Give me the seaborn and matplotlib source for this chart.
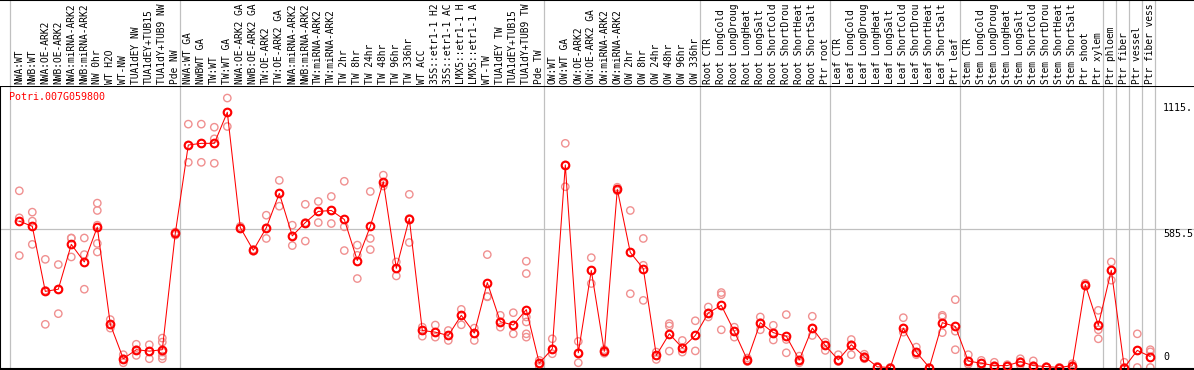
import numpy as np
import pandas as pd
import matplotlib
matplotlib.use("Agg")
import matplotlib.pyplot as plt
import matplotlib.transforms as mtransforms
import seaborn as sns

# ---------------------------------------------------------------
# datos
# ---------------------------------------------------------------
gene_id = "Potri.007G059800"

# etiquetas tal y como se ven (cortadas a 14 caracteres)
labels = [
    "NWA:WT", "NWB:WT", "NWA:OE-ARK2", "NWB:OE-ARK2", "NWA:miRNA-ARK2",
    "NWB:miRNA-ARK2", "NW 0hr", "WT H2O", "WT-NW", "TUA1dEY NW",
    "TUA1dEY+TUB15", "TUA1dY+TUB9 NW", "Pde NW",
    "NWA:WT GA", "NWBWT GA", "TW:WT", "TW:WT GA", "NWA:OE-ARK2 GA",
    "NWB:OE-ARK2 GA", "TW:OE-ARK2", "TW:OE-ARK2 GA", "NWA:miRNA-ARK2",
    "NWB:miRNA-ARK2", "TW:miRNA-ARK2", "TW:miRNA-ARK2", "TW 2hr", "TW 8hr",
    "TW 24hr", "TW 48hr", "TW 96hr", "TW 336hr", "WT ACC",
    "35S::etr1-1 H2", "35S::etr1-1 AC", "LMX5::etr1-1 H",
    "LMX5::etr1-1 A", "WT-TW", "TUA1dEY TW", "TUA1dEY+TUB15",
    "TUA1dY+TUB9 TW", "Pde TW",
    "OW:WT", "OW:WT GA", "OW:OE-ARK2", "OW:OE-ARK2 GA", "OW:miRNA-ARK2",
    "OW:miRNA-ARK2", "OW 2hr", "OW 8hr", "OW 24hr", "OW 48hr", "OW 96hr",
    "OW 336hr",
    "Root CTR", "Root LongCold", "Root LongDroug", "Root LongHeat",
    "Root LongSalt", "Root ShortCold", "Root ShortDrou", "Root ShortHeat",
    "Root ShortSalt", "Ptr root",
    "Leaf CTR", "Leaf LongCold", "Leaf LongDroug", "Leaf LongHeat",
    "Leaf LongSalt", "Leaf ShortCold", "Leaf ShortDrou", "Leaf ShortHeat",
    "Leaf ShortSalt", "Ptr leaf",
    "Stem CTR", "Stem LongCold", "Stem LongDroug", "Stem LongHeat",
    "Stem LongSalt", "Stem ShortCold", "Stem ShortDrou", "Stem ShortHeat",
    "Stem ShortSalt", "Ptr shoot", "Ptr xylem",
    "Ptr phloem", "Ptr fiber", "Ptr vessel", "Ptr fiber vess",
]

# media por muestra (linea roja)
mean_vals = [
    617, 595, 321, 330, 519, 445, 592, 182, 37, 75, 69, 75, 566,
    938, 945, 945, 1076, 590, 494, 589, 734, 555, 611, 658, 662, 624, 451,
    595, 783, 418, 628, 156, 149, 135, 220, 145, 358, 193, 179, 244, 18,
    79, 854, 62, 409, 68, 751, 485, 417, 51, 142, 83, 135,
    230, 262, 152, 32, 189, 147, 132, 32, 166, 93,
    32, 96, 46, 3, 0, 166, 65, 0, 189, 173,
    27, 18, 8, 8, 25, 8, 4, 0, 8, 349, 178,
    410, 0, 72, 46,
]

# replicas (circulos rosas)
replicates = [
    [745, 631, 472], [655, 617, 519], [456, 325, 182], [434, 330, 227],
    [546, 545, 466], [546, 476, 330], [693, 662, 600, 523, 487],
    [202, 182, 166], [54, 37, 20], [98, 75, 51], [96, 69, 37],
    [124, 107, 65, 48, 37], [571, 566, 558],
    [1026, 938, 865], [1026, 945, 865], [1013, 964, 861], [1136, 1076, 1016],
    [595, 590, 585], [498, 494, 490], [642, 589, 544], [789, 734, 680],
    [600, 555, 514], [688, 611, 533], [700, 658, 611], [721, 662, 607],
    [785, 593, 493], [516, 473, 375], [742, 544, 497], [811, 775, 765],
    [445, 418, 386], [730, 628, 527], [170, 156, 132], [179, 149, 128],
    [156, 135, 114], [245, 220, 180], [166, 145, 114], [476, 300, 298],
    [220, 193, 170], [231, 179, 142], [448, 396, 213, 192, 142, 128],
    [30, 18, 5],
    [121, 79, 58], [945, 854, 762], [110, 62, 20], [463, 409, 354],
    [75, 68, 60], [760, 751, 745], [662, 485, 311], [544, 431, 283],
    [65, 51, 34], [185, 175, 69], [114, 83, 65], [197, 135, 70],
    [255, 230, 213], [316, 307, 159], [170, 152, 128], [40, 32, 25],
    [213, 189, 159], [178, 147, 116], [223, 118, 62], [48, 32, 20],
    [216, 166, 135], [107, 93, 72],
    [54, 32, 25], [118, 96, 54], [56, 46, 37], [5, 3, 0], [0, 0],
    [210, 166, 149], [86, 65, 54], [0, 0], [220, 213, 147], [286, 153, 75],
    [54, 27, 14], [30, 18, 5], [22, 8, 0], [12, 8, 4], [37, 25, 10],
    [28, 8, 0], [4, 2], [0, 0], [16, 8, 0], [355, 349, 343],
    [241, 159, 121],
    [445, 410, 368], [22, 0, 0], [142, 72, 0], [75, 66, 0],
]

# separadores de grupo (despues de la muestra n)
group_ends = [13, 41, 53, 63, 73, 84, 85, 86, 87, 88]

y_ticks = [1115, 585.5, 0]
y_tick_text = ["1115.", "585.5", "0"]

# ---------------------------------------------------------------
# dataframes
# ---------------------------------------------------------------
pos = np.arange(1, len(labels) + 1)
df_mean = pd.DataFrame({"pos": pos, "valor": mean_vals})
df_rep = pd.DataFrame(
    [(i + 1, v) for i, reps in enumerate(replicates) for v in reps],
    columns=["pos", "valor"],
)

# ---------------------------------------------------------------
# grafico
# ---------------------------------------------------------------
sns.set_theme(style="white")
plt.rcParams["font.family"] = ["DejaVu Sans Mono", "DejaVu Sans"]

W, H = 1194, 370
fig = plt.figure(figsize=(W / 100, H / 100), dpi=100)

head_px = 86
ax = fig.add_axes([0, 1 / H, 1, (H - head_px - 1) / H])
ax_h = fig.add_axes([0, (H - head_px) / H, 1, head_px / H])

# escala: columna 1 en x=19.3px, 13px por columna
px_col = 13.0
x0 = 1 - 19.3 / px_col
x1 = x0 + W / px_col
for a in (ax, ax_h):
    a.set_xlim(x0, x1)
    a.set_xticks([])
    a.set_yticks([])
    a.set_facecolor("white")

s = 0.2372  # px por unidad
ax.set_ylim(-(369 - 367.5) / s, (367.5 - head_px) / s)
ax_h.set_ylim(0, 1)

gris = "#c0c0c0"
sep_x = [x0 + 10 / px_col] + [g + 5 / px_col for g in group_ends]
for sx in sep_x:
    ax.axvline(sx, color=gris, lw=0.9, zorder=0)
    ax_h.axvline(sx, color=gris, lw=0.9, zorder=0)
ax.axhline(585.5, color=gris, lw=0.9, zorder=0)

# replicas y media
rosa = "#f09090"
sns.scatterplot(data=df_rep, x="pos", y="valor", marker="o", s=28,
                color=rosa, facecolor="none", edgecolor=rosa,
                linewidth=1.0, ax=ax, zorder=2, legend=False)
sns.lineplot(data=df_mean, x="pos", y="valor", color="red", linewidth=0.75,
             marker="o", markersize=5.5, markerfacecolor="none",
             markeredgecolor="red", markeredgewidth=1.5,
             errorbar=None, ax=ax, zorder=3)
ax.set_xlabel("")
ax.set_ylabel("")

# etiquetas eje y (a la derecha, dentro del grafico)
trans = mtransforms.blended_transform_factory(ax.transAxes, ax.transData)
for v, t in zip(y_ticks, y_tick_text):
    ax.text(1163 / W, v if v > 0 else 6 / s, t, transform=trans,
            ha="left", va="top" if v > 0 else "bottom",
            fontsize=7.2, color="black")

# nombre del gen
fig.text(9 / W, 1 - 97 / H, gene_id, color="red", fontsize=7.2,
         ha="left", va="center")

# etiquetas de muestras (verticales)
trans_h = mtransforms.blended_transform_factory(ax_h.transData, ax_h.transAxes)
for i, lab in enumerate(labels):
    ax_h.text(i + 1, 2 / head_px, lab, transform=trans_h, rotation=90,
              ha="center", va="bottom", fontsize=6.9, color="black")

# bordes
for a in (ax, ax_h):
    for sp in a.spines.values():
        sp.set_visible(False)
ax.spines["left"].set_visible(True)
ax.spines["bottom"].set_visible(True)
ax.spines["top"].set_visible(True)
ax_h.spines["top"].set_visible(True)
for sp in ["left", "bottom", "top"]:
    ax.spines[sp].set_color("black")
    ax.spines[sp].set_linewidth(1.5)
ax_h.spines["top"].set_color("black")
ax_h.spines["top"].set_linewidth(1.5)

fig.savefig("out.png", dpi=100)
